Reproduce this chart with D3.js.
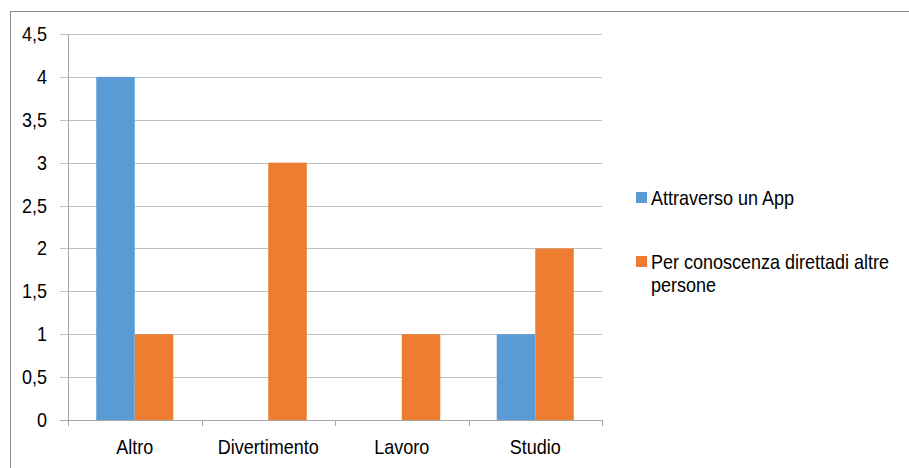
<!DOCTYPE html>
<html>
<head>
<meta charset="utf-8">
<script src="https://cdn.jsdelivr.net/npm/d3@7"></script>
<style>
  body { margin: 0; background: #fff; }
  svg text { font-family: "Liberation Sans", Arial, sans-serif; fill: #000; }
</style>
</head>
<body>
<div id="chart"></div>
<script>
let categories = ['Altro', 'Divertimento', 'Lavoro', 'Studio']
let seriesNames = ['Attraverso un App', 'Per conoscenza direttadi altre persone']
let appValues = [4, 0, 0, 1]
let conoscenzaValues = [1, 3, 1, 2]
let yTicks = [0, 0.5, 1, 1.5, 2, 2.5, 3, 3.5, 4, 4.5]
let colors = ['#5B9BD5', '#ED7D31']

let width = 909,
    height = 468

let svg = d3.select("#chart")
  .append("svg")
  .attr("width", width)
  .attr("height", height)

// outer frame (cropped on right and bottom like the screenshot)
svg.append("rect")
  .attr("x", 10.5).attr("y", 11.5)
  .attr("width", 920).attr("height", 480)
  .attr("fill", "none")
  .attr("stroke", "#8c8c8c")

let plotLeft = 68, plotRight = 602, plotTop = 34, plotBottom = 420

let x0 = d3.scaleBand()
  .domain(categories)
  .range([plotLeft, plotRight])
  .paddingInner(0.423)
  .paddingOuter(0.2115)

let x1 = d3.scaleBand()
  .domain([0, 1])
  .range([0, x0.bandwidth()])

let y = d3.scaleLinear()
  .domain([0, 4.5])
  .range([plotBottom, plotTop])

let it = d3.formatLocale({decimal: ",", thousands: ".", grouping: [3], currency: ["", "€"]})
let fmt = it.format("~g")

// text in the original is a bit tall and narrow
function place(x, yy) { return "translate(" + x + "," + yy + ") scale(0.9,1)" }

// gridlines
svg.append("g")
  .selectAll("line")
  .data(yTicks)
  .enter()
  .append("line")
  .attr("x1", plotLeft - 8)
  .attr("x2", plotRight)
  .attr("y1", d => Math.round(y(d)) + 0.5)
  .attr("y2", d => Math.round(y(d)) + 0.5)
  .attr("stroke", d => d === 0 ? "#a6a6a6" : "#bfbfbf")

// y axis line
svg.append("line")
  .attr("x1", plotLeft + 0.5).attr("x2", plotLeft + 0.5)
  .attr("y1", plotTop).attr("y2", plotBottom)
  .attr("stroke", "#a6a6a6")

// x axis ticks at band edges
let edges = categories.map(c => x0(c) - x0.step() * x0.paddingOuter()).concat([plotRight])
svg.append("g")
  .selectAll("line")
  .data(edges)
  .enter()
  .append("line")
  .attr("x1", d => Math.round(d) + 0.5)
  .attr("x2", d => Math.round(d) + 0.5)
  .attr("y1", plotBottom)
  .attr("y2", plotBottom + 6)
  .attr("stroke", "#a6a6a6")

// y labels
svg.append("g")
  .selectAll("text")
  .data(yTicks)
  .enter()
  .append("text")
  .attr("transform", d => place(47, y(d) + 7))
  .attr("text-anchor", "end")
  .style("font-size", "20px")
  .text(d => fmt(d))

// bars
let rows = categories.map((c, i) => ({cat: c, vals: [appValues[i], conoscenzaValues[i]]}))
let groups = svg.append("g")
  .selectAll("g")
  .data(rows)
  .enter()
  .append("g")
  .attr("transform", d => "translate(" + x0(d.cat) + ",0)")

groups.selectAll("rect")
  .data(d => d.vals.map((v, k) => ({k: k, v: v})))
  .enter()
  .append("rect")
  .attr("x", d => x1(d.k))
  .attr("width", x1.bandwidth())
  .attr("y", d => y(d.v))
  .attr("height", d => y(0) - y(d.v))
  .attr("fill", d => colors[d.k])

// x labels
svg.append("g")
  .selectAll("text")
  .data(categories)
  .enter()
  .append("text")
  .attr("transform", d => place(x0(d) + x0.bandwidth() / 2, 454))
  .attr("text-anchor", "middle")
  .style("font-size", "20px")
  .text(d => d)

// legend
let legend = svg.append("g")
let legendRows = [
  {y: 192, lines: [seriesNames[0]]},
  {y: 256, lines: ['Per conoscenza direttadi altre', 'persone']}
]
legendRows.forEach((r, i) => {
  legend.append("rect")
    .attr("x", 636).attr("y", r.y)
    .attr("width", 11).attr("height", 11)
    .attr("fill", colors[i])
  r.lines.forEach((t, j) => {
    legend.append("text")
      .attr("transform", place(651, r.y + 13 + j * 23))
      .style("font-size", "20px")
      .text(t)
  })
})
</script>
</body>
</html>
